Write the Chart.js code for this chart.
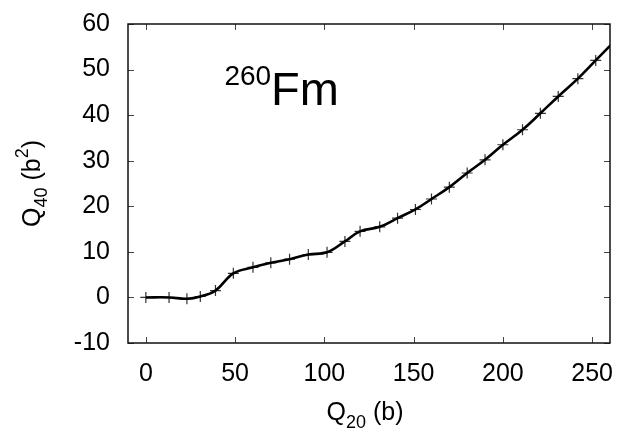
<!DOCTYPE html>
<html lang="en">
<head>
<meta charset="UTF-8">
<title>260Fm Q40 vs Q20</title>
<style>
  html, body { margin: 0; padding: 0; background: #fff; }
  #wrap { width: 626px; height: 432px; }
</style>
</head>
<body>
<div id="wrap"><canvas id="q40Chart" width="626" height="432"></canvas></div>

<script src="https://cdn.jsdelivr.net/npm/chart.js"></script>
<script>
// calculated points (crosses)
var q20 = [0, 13, 23, 30.5, 39, 49, 60, 70, 80.5, 91, 101.5, 111.5, 120, 131, 141, 151, 160, 170, 180, 190, 200, 211, 221, 231, 242, 252];
var q40 = [0, 0, -0.3, 0.2, 1.5, 5.3, 6.6, 7.6, 8.4, 9.4, 9.9, 12.3, 14.5, 15.5, 17.4, 19.3, 21.6, 24.2, 27.3, 30.2, 33.5, 36.8, 40.4, 44.1, 48, 52];
// the smooth curve keeps going past the last cross and is cut by the frame
var tailQ20 = [266];
var tailQ40 = [57.6];

var xTicks = [0, 50, 100, 150, 200, 250];
var yTicks = [-10, 0, 10, 20, 30, 40, 50, 60];

var FONT = "'Liberation Sans', Arial, Helvetica, sans-serif";

var crossPts = q20.map(function (x, i) { return { x: x, y: q40[i] }; });
var curvePts = crossPts.concat(tailQ20.map(function (x, i) { return { x: x, y: tailQ40[i] }; }));

// draws text pieces in a row; each piece may be shifted up (sup) or down (sub)
function drawRich(ctx, parts, x, y, align) {
    var total = 0;
    parts.forEach(function (p) {
        ctx.font = p.size + 'px ' + FONT;
        p.w = ctx.measureText(p.t).width;
        total += p.w;
    });
    var cx = align === 'center' ? x - total / 2 : x;
    parts.forEach(function (p) {
        ctx.font = p.size + 'px ' + FONT;
        ctx.fillText(p.t, cx, y + (p.dy || 0));
        cx += p.w;
    });
}

// frame, inward ticks on all four sides, axis titles and the nucleus label
var framePlugin = {
    id: 'frame',
    afterDatasetsDraw: function (chart) {
        var ctx = chart.ctx;
        var a = chart.chartArea;
        var xs = chart.scales.x, ys = chart.scales.y;
        ctx.save();

        ctx.strokeStyle = '#444';
        ctx.lineWidth = 1;
        ctx.beginPath();
        xTicks.forEach(function (v) {
            var px = Math.round(xs.getPixelForValue(v)) + 0.5;
            ctx.moveTo(px, a.bottom); ctx.lineTo(px, a.bottom - 6);
            ctx.moveTo(px, a.top); ctx.lineTo(px, a.top + 6);
        });
        yTicks.forEach(function (v) {
            var py = Math.round(ys.getPixelForValue(v)) + 0.5;
            ctx.moveTo(a.left, py); ctx.lineTo(a.left + 6, py);
            ctx.moveTo(a.right, py); ctx.lineTo(a.right - 6, py);
        });
        ctx.stroke();

        ctx.strokeStyle = '#111';
        ctx.lineWidth = 1.5;
        ctx.strokeRect(a.left, a.top, a.right - a.left, a.bottom - a.top);

        ctx.fillStyle = '#000';
        ctx.textBaseline = 'alphabetic';
        ctx.textAlign = 'left';

        // x title: Q20 (b)
        drawRich(ctx, [
            { t: 'Q', size: 25 },
            { t: '20', size: 18, dy: 8 },
            { t: ' (b)', size: 25 }
        ], (a.left + a.right) / 2 - 4, 420, 'center');

        // y title: Q40 (b2), rotated
        ctx.save();
        ctx.translate(40, (a.top + a.bottom) / 2);
        ctx.rotate(-Math.PI / 2);
        drawRich(ctx, [
            { t: 'Q', size: 25 },
            { t: '40', size: 18, dy: 7 },
            { t: ' (b', size: 25 },
            { t: '2', size: 18, dy: -12 },
            { t: ')', size: 25 }
        ], 0, 0, 'center');
        ctx.restore();

        // nucleus label
        var lx = xs.getPixelForValue(44);
        var ly = ys.getPixelForValue(42.3);
        drawRich(ctx, [
            { t: '260', size: 28, dy: -20 },
            { t: 'Fm', size: 47 }
        ], lx, ly, 'left');

        ctx.restore();
    }
};

var chart = new Chart(document.getElementById('q40Chart'), {
    type: 'scatter',
    data: {
        datasets: [
            {
                label: 'curve',
                data: curvePts,
                showLine: true,
                borderColor: '#000',
                borderWidth: 2.6,
                pointRadius: 0,
                tension: 0.4,
                fill: false
            },
            {
                label: 'points',
                data: crossPts,
                showLine: false,
                pointStyle: 'cross',
                pointRadius: 5.5,
                borderColor: '#333',
                pointBorderWidth: 1.2,
                backgroundColor: '#333'
            }
        ]
    },
    options: {
        responsive: false,
        animation: false,
        devicePixelRatio: 1,
        layout: { padding: { top: 24, right: 16, left: 0, bottom: 0 } },
        scales: {
            x: {
                type: 'linear',
                min: -10,
                max: 260,
                afterBuildTicks: function (s) { s.ticks = xTicks.map(function (v) { return { value: v }; }); },
                afterFit: function (s) { s.height = 89; s.paddingLeft = 0; s.paddingRight = 0; },
                grid: { display: false, drawTicks: false },
                border: { display: false },
                ticks: { padding: 16, color: '#000', font: { family: FONT, size: 25 } }
            },
            y: {
                type: 'linear',
                min: -10,
                max: 60,
                afterBuildTicks: function (s) { s.ticks = yTicks.map(function (v) { return { value: v }; }); },
                afterFit: function (s) { s.width = 128; s.paddingTop = 0; s.paddingBottom = 0; },
                grid: { display: false, drawTicks: false },
                border: { display: false },
                ticks: { padding: 18, color: '#000', font: { family: FONT, size: 25 } }
            }
        },
        plugins: {
            legend: { display: false },
            tooltip: { enabled: false },
            title: { display: false }
        }
    },
    plugins: [framePlugin]
});
</script>
</body>
</html>
